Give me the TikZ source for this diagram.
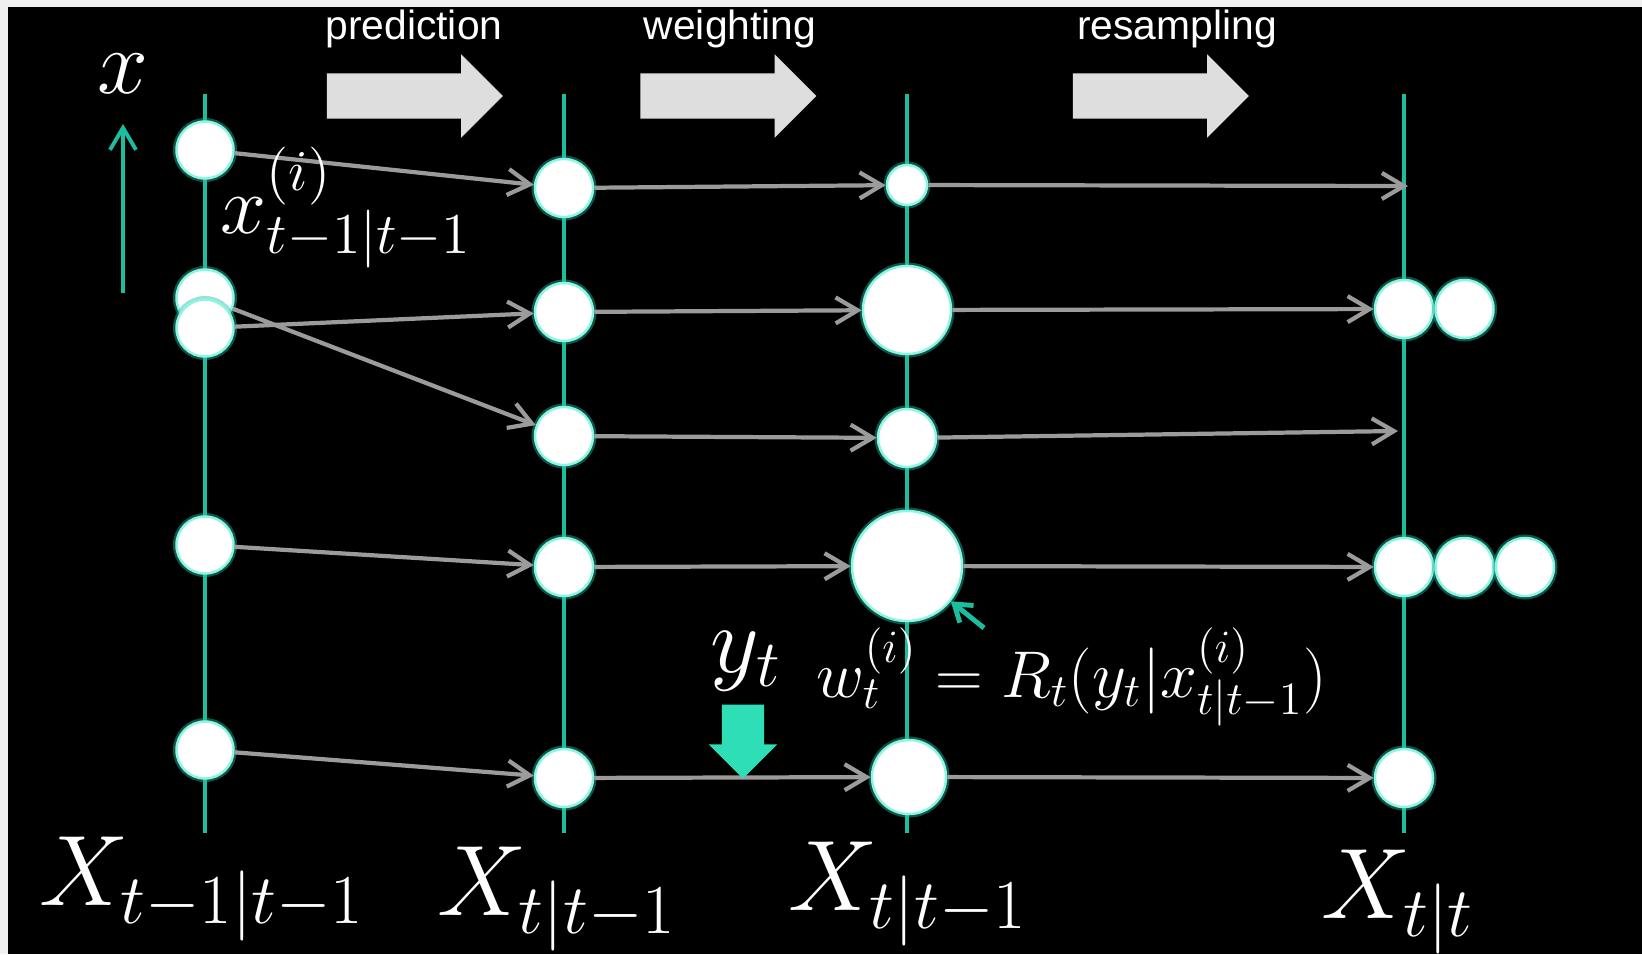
\RequirePackage{fix-cm}
\documentclass[tikz,border=0pt]{standalone}
\usepackage{fontspec}
\newfontfamily\labelfont{Liberation Sans}
\usepackage{tikz}
\usetikzlibrary{arrows.meta, positioning, shapes.arrows}
\definecolor{tealine}{RGB}{28,190,160}
\definecolor{rim}{RGB}{140,245,225}
\definecolor{flowgray}{RGB}{155,155,155}
\definecolor{blockgray}{RGB}{222,222,222}
\definecolor{obsteal}{RGB}{45,222,182}
\definecolor{framegray}{RGB}{240,240,240}

\begin{document}
\begin{tikzpicture}[x=0.01cm, y=-0.01cm,
    axis/.style={tealine, line width=1.1pt},
    ptc/.style={circle, fill=white, draw=rim, line width=0.7pt, inner sep=0pt, minimum size=#1,
      preaction={draw=tealine, line width=2pt, draw opacity=0.45}},
    ptc/.default=5.7mm,
    flow/.style={flowgray, line width=1.2pt, -{Straight Barb[length=2.2mm, width=2.6mm]}},
    stage/.style={single arrow, fill=blockgray, draw=none, inner sep=0.22cm, minimum height=1.76cm,
      minimum width=0.82cm, single arrow head extend=0.19cm, single arrow head indent=0pt},
    obsarrow/.style={single arrow, shape border rotate=270, fill=obsteal, draw=none, inner sep=0.205cm,
      minimum height=0.74cm, minimum width=0.67cm, single arrow head extend=0.13cm},
    stagelbl/.style={white, font=\labelfont\fontsize{11.6}{14}\selectfont},
    bigmath/.style={white, font=\fontsize{28.5}{34}\selectfont}]
  % frame and background
  \useasboundingbox (0,0) rectangle (1642,954);
  \fill[framegray] (0,0) rectangle (1642,954);
  \fill[black] (8,7) rectangle (1642,954);
  % state axes
  \foreach \cx in {205,564,907,1404} \draw[axis] (\cx,94) -- (\cx,833);
  % stages
  \node[stage] (pred) at (403.5,96) {}; \node[stagelbl] (predlbl) at (414,29) {prediction};
  \node[stage] (wgt) at (717,96) {}; \node[stagelbl] (wgtlbl) at (730,29) {weighting};
  \node[stage] (resamp) at (1149.5,96) {}; \node[stagelbl] (resamplbl) at (1177,29) {resampling};
  % x axis label
  \node[white, anchor=base, font=\fontsize{26}{30}\selectfont] (xlbl) at (123,93) {$x$};
  \coordinate (xtail) at (123,293); \coordinate (xhead) at (123,124);
  \draw[axis, -{Straight Barb[length=2.2mm, width=2.6mm]}] (xtail) -- (xhead);
  % particles at t-1
  \node[ptc] (a1) at (205,150) {}; \node[ptc] (b1) at (205,298) {};
  \node[ptc] (c1) at (205,328) {}; \node[ptc] (d1) at (205,545) {};
  \node[ptc] (e1) at (205,750) {};
  % predicted particles
  \node[ptc=5.8mm] (a2) at (564,188) {}; \node[ptc=5.8mm] (b2) at (564,312) {};
  \node[ptc=5.8mm] (c2) at (564,436) {}; \node[ptc=5.8mm] (d2) at (564,567) {};
  \node[ptc=5.8mm] (e2) at (564,778) {};
  % weighted particles
  \node[ptc=4mm] (a3) at (907,185) {}; \node[ptc=8.8mm] (b3) at (907,310) {};
  \node[ptc=5.8mm] (c3) at (907,438) {}; \node[ptc=11mm] (d3) at (907,566) {};
  \node[ptc=7.4mm] (e3) at (909,777) {};
  % resampled particles
  \coordinate (a4) at (1408,186); \coordinate (c4) at (1398,431);
  \node[ptc=5.8mm] (b4) at (1404,309) {}; \node[ptc=5.8mm, right=0pt of b4] (b4x) {};
  \node[ptc=5.8mm] (d4) at (1404,567) {}; \node[ptc=5.8mm, right=0pt of d4] (d4x) {};
  \node[ptc=5.8mm, right=0pt of d4x] (d4y) {};
  \node[ptc=5.8mm] (e4) at (1404,778) {};
  % flows
  \draw[flow] (a1) -- (a2); \draw[flow] (b1) -- (c2); \draw[flow] (c1) -- (b2);
  \draw[flow] (d1) -- (d2); \draw[flow] (e1) -- (e2);
  \draw[flow] (a2) -- (a3); \draw[flow] (b2) -- (b3); \draw[flow] (c2) -- (c3);
  \draw[flow] (d2) -- (d3); \draw[flow] (e2) -- (e3);
  \draw[flow] (a3) -- (a4); \draw[flow] (b3) -- (b4); \draw[flow] (c3) -- (c4);
  \draw[flow] (d3) -- (d4); \draw[flow] (e3) -- (e4);
  % labels
  \node[white, anchor=base west, inner sep=0pt, font=\fontsize{23.5}{28}\selectfont] (xilbl) at (220,233) {$x^{(i)}_{t-1|t-1}$};
  \node[bigmath, font=\fontsize{27}{32}\selectfont, anchor=base] (ylbl) at (746,672) {$y_t$};
  \node[obsarrow] (obs) at (743,731) {};
  \node[white, anchor=base west, inner sep=0pt, font=\fontsize{18.8}{23}\selectfont] (wlbl) at (816,697) {$w_t^{(i)} = R_t(y_t|x^{(i)}_{t|t-1})$};
  \coordinate (wtail) at (984,628);
  \draw[tealine, line width=1.4pt, -{Straight Barb[length=1.6mm, width=2.2mm]}] (wtail) -- (d3);
  \node[bigmath, anchor=base] (lx1) at (202,905) {$X_{t-1|t-1}$};
  \node[bigmath, anchor=base] (lx2) at (557,915) {$X_{t|t-1}$};
  \node[bigmath, anchor=base] (lx3) at (908,910) {$X_{t|t-1}$};
  \node[bigmath, anchor=base] (lx4) at (1398,918) {$X_{t|t}$};
\end{tikzpicture}
\end{document}
